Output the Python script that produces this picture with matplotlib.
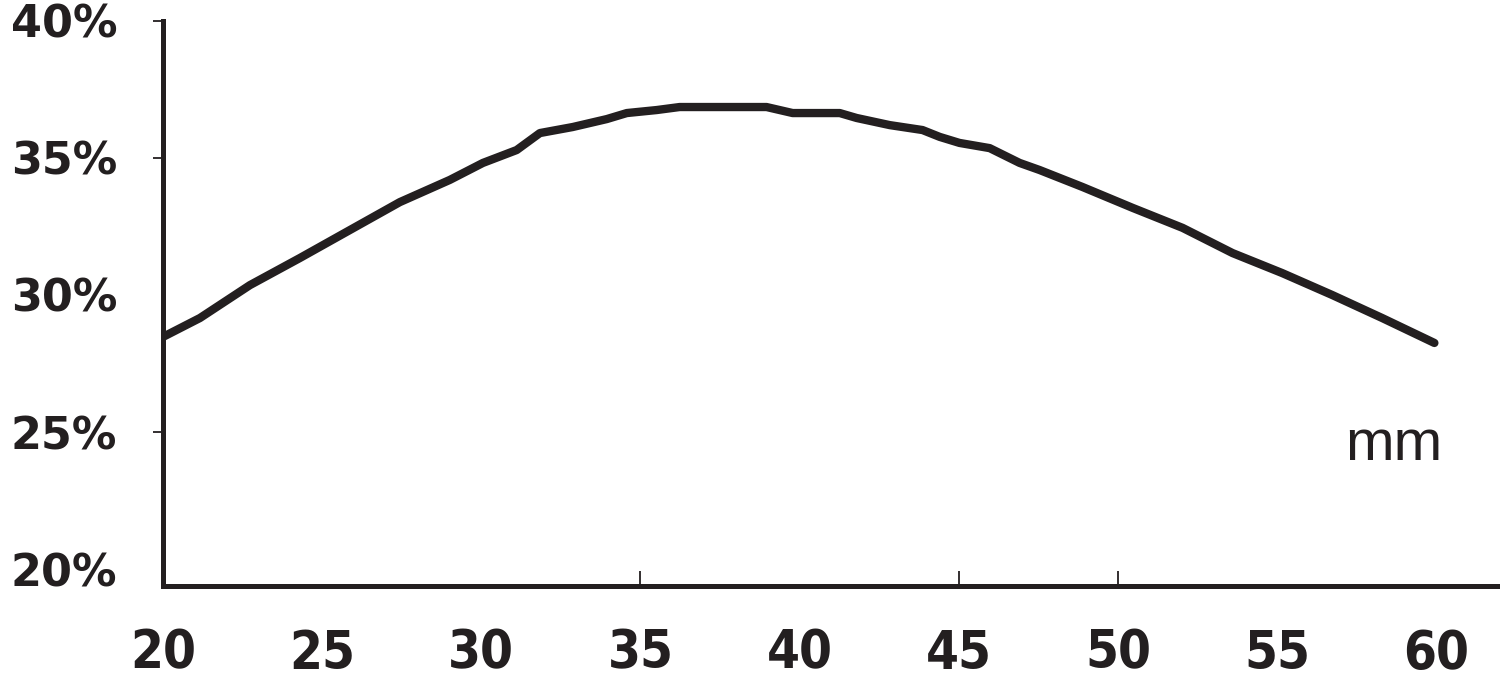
import matplotlib
matplotlib.use("Agg")
import matplotlib.pyplot as plt
from matplotlib.ticker import FixedLocator
from matplotlib import font_manager

# values
length_mm = [20.00, 21.16, 22.73, 24.30, 25.87, 27.44, 29.01, 30.05, 31.11, 31.84,
             32.87, 33.94, 34.57, 35.51, 36.23, 37.58, 38.96, 39.78, 41.26, 41.79,
             42.83, 43.86, 44.40, 45.02, 45.97, 46.91, 47.54, 48.89, 50.46, 52.03,
             53.60, 55.16, 56.73, 58.30, 59.94]
share_pct = [28.47, 29.16, 30.36, 31.35, 32.37, 33.39, 34.20, 34.82, 35.29, 35.91,
             36.13, 36.42, 36.64, 36.75, 36.86, 36.86, 36.86, 36.64, 36.64, 36.46,
             36.20, 36.02, 35.77, 35.55, 35.36, 34.82, 34.56, 33.94, 33.18, 32.45,
             31.53, 30.80, 30.00, 29.16, 28.25]

x_ticks = [20, 25, 30, 35, 40, 45, 50, 55, 60]
y_ticks = [20, 25, 30, 35, 40]
y_labels = ["20%", "25%", "30%", "35%", "40%"]
x_marks = [35, 45, 50]      # only these have visible tick marks
y_marks = [25, 35, 40]

ink = "#231f20"

# narrow bold face for the x labels, if one is around
narrow = font_manager.FontProperties(family="DejaVu Sans", weight="bold",
                                     stretch="condensed", size=38)
for fam in ["Liberation Sans Narrow", "Arial Narrow"]:
    try:
        font_manager.findfont(font_manager.FontProperties(family=fam),
                              fallback_to_default=False)
        narrow = font_manager.FontProperties(family=fam, weight="bold", size=41)
        break
    except ValueError:
        pass

fig = plt.figure(figsize=(15, 6.8), dpi=100)
ax = fig.add_axes([0.10867, 0.13824, 0.8913, 0.8309])

ax.plot(length_mm, share_pct, color=ink, linewidth=6, solid_capstyle="round",
        solid_joinstyle="round")

ax.set_xlim(20, 62)
ax.set_ylim(19.38, 40)

for side in ["top", "right"]:
    ax.spines[side].set_visible(False)
for side in ["left", "bottom"]:
    ax.spines[side].set_linewidth(3.6)
    ax.spines[side].set_color(ink)
    ax.spines[side].set_capstyle("projecting")

# labels on major ticks (no marks), marks on minor ticks
ax.set_xticks(x_ticks)
ax.set_xticklabels([str(v) for v in x_ticks], fontproperties=narrow, color=ink)
ax.set_yticks(y_ticks)
ax.set_yticklabels(y_labels, fontfamily="DejaVu Sans", fontweight="bold",
                   fontsize=32, color=ink)
ax.tick_params(axis="x", which="major", length=0, pad=30)
ax.tick_params(axis="y", which="major", length=0, pad=33)

ax.xaxis.remove_overlapping_locs = False
ax.yaxis.remove_overlapping_locs = False
ax.xaxis.set_minor_locator(FixedLocator(x_marks))
ax.yaxis.set_minor_locator(FixedLocator(y_marks))
ax.tick_params(axis="x", which="minor", direction="in", length=11, width=1.3, color=ink)
ax.tick_params(axis="y", which="minor", direction="out", length=7, width=1.3, color=ink)

fig.text(1345 / 1500, 1 - 460 / 680, "mm", fontfamily="Liberation Sans",
         fontsize=42, color=ink, ha="left", va="baseline")

fig.savefig("out.png", dpi=100)
